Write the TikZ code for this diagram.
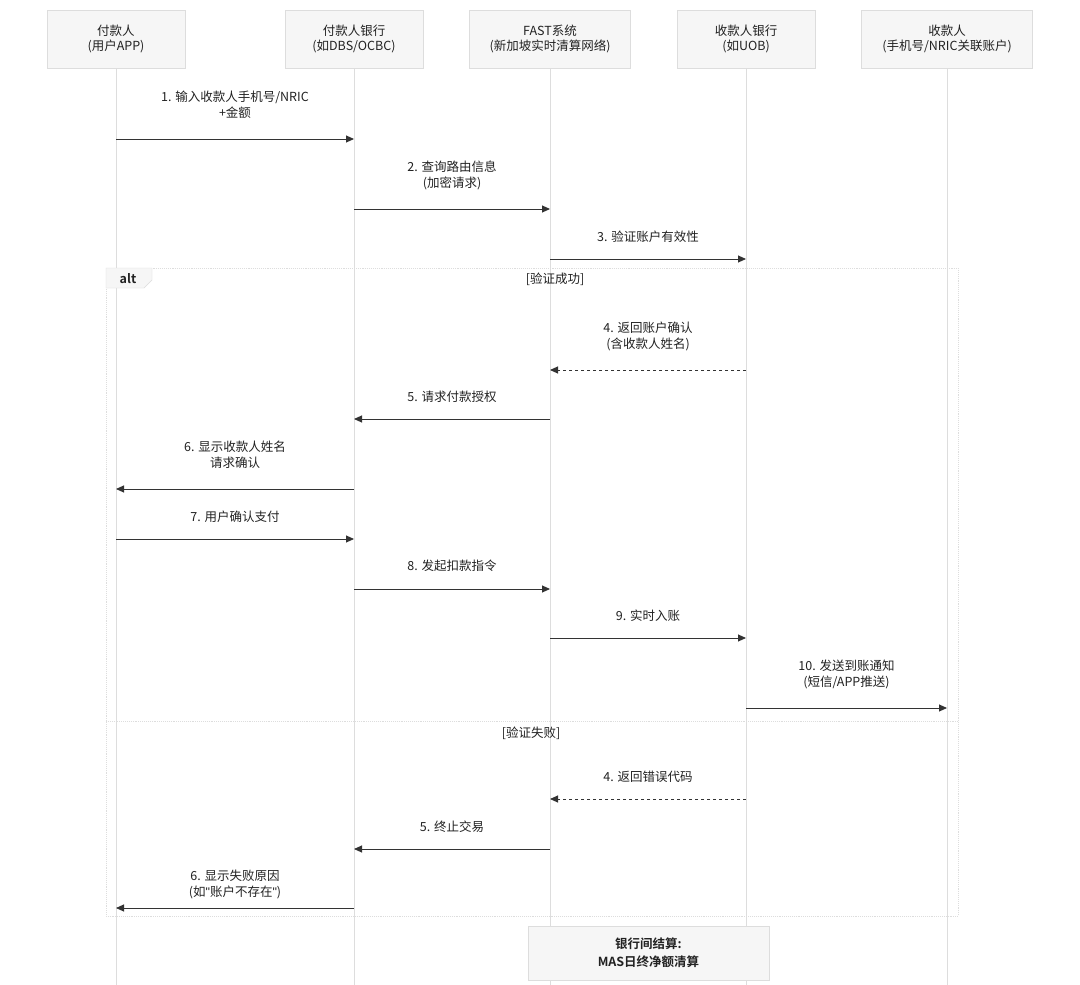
\documentclass[tikz,border=0pt]{standalone}
\usepackage{fontspec}
\setmainfont{Noto Sans CJK SC}[BoldFont={Noto Sans CJK SC Bold}]
\newfontfamily\qfont{Liberation Sans}
\usetikzlibrary{arrows.meta}
\definecolor{tx}{HTML}{222222}
\definecolor{ln}{HTML}{333333}
\definecolor{bx}{HTML}{F6F6F6}
\definecolor{bd}{HTML}{DDDDDD}
\tikzset{x=1pt,y=-1pt,
 actor/.style={draw=bd,fill=bx,text=tx,font=\fontsize{12.5}{15}\selectfont,align=center,inner sep=0pt},
 life/.style={draw=bd,line width=0.8pt},
 msg/.style={draw=ln,line width=0.9pt,-{Triangle[length=8pt,width=7pt]}},
 rmsg/.style={msg,dashed},
 lab/.style={text=tx,font=\fontsize{12.5}{16}\selectfont,align=center,inner sep=0pt}}
\begin{document}
\begin{tikzpicture}
\useasboundingbox[fill=white] (0,0) rectangle (1080,985);
\foreach \n/\x/\w/\t in {A/116/138/{付款人\\(用户APP)},B/354/138/{付款人银行\\(如DBS/OCBC)},C/550/161/{FAST系统\\(新加坡实时清算网络)},D/746/138/{收款人银行\\(如UOB)},E/947/171/{收款人\\(手机号/NRIC关联账户)}}{
 \draw[life] (\x,68) -- (\x,985);
 \node[actor,minimum width=\w pt,minimum height=58pt] (\n) at (\x,39) {\t};
}
% alt frame
\draw[bd,densely dotted,line width=0.9pt] (106,268) rectangle (958,916);
\draw[bd,densely dotted,line width=0.9pt] (106,721) -- (958,721);
\draw[bd,fill=bx] (106,268) -- (152,268) -- (152,280) -- (144,288) -- (106,288) -- cycle;
\node[lab,font=\fontsize{12.5}{14}\selectfont\bfseries] (alt) at (128,279) {alt};
\node[lab] (g1) at (555,279) {[验证成功]};
\node[lab] (g2) at (531,733) {[验证失败]};
\newcommand{\msgline}[6]{% style, from x, to x, y, label y, label
 \coordinate (s#4) at (#2,#4); \coordinate (t#4) at (#3,#4);
 \draw[#1] (s#4) -- (t#4);
 \node[lab] (l#4) at ({(#2+#3)/2},#5) {#6};}
\msgline{msg}{116}{354}{139}{105}{1. 输入收款人手机号/NRIC\\+金额}
\msgline{msg}{354}{550}{209}{175}{2. 查询路由信息\\(加密请求)}
\msgline{msg}{550}{746}{259}{237}{3. 验证账户有效性}
\msgline{rmsg}{746}{550}{370}{336}{4. 返回账户确认\\(含收款人姓名)}
\msgline{msg}{550}{354}{419}{397}{5. 请求付款授权}
\msgline{msg}{354}{116}{489}{455}{6. 显示收款人姓名\\请求确认}
\msgline{msg}{116}{354}{539}{517}{7. 用户确认支付}
\msgline{msg}{354}{550}{589}{566}{8. 发起扣款指令}
\msgline{msg}{550}{746}{638}{616}{9. 实时入账}
\msgline{msg}{746}{947}{708}{674}{10. 发送到账通知\\(短信/APP推送)}
\msgline{rmsg}{746}{550}{799}{777}{4. 返回错误代码}
\msgline{msg}{550}{354}{849}{827}{5. 终止交易}
\msgline{msg}{354}{116}{908}{884}{6. 显示失败原因\\(如{\qfont"}账户不存在{\qfont"})}
\node[actor,minimum width=241pt,minimum height=54pt,font=\fontsize{12.5}{18}\selectfont\bfseries] (note) at (648.5,953) {银行间结算:\\MAS日终净额清算};
\end{tikzpicture}
\end{document}
